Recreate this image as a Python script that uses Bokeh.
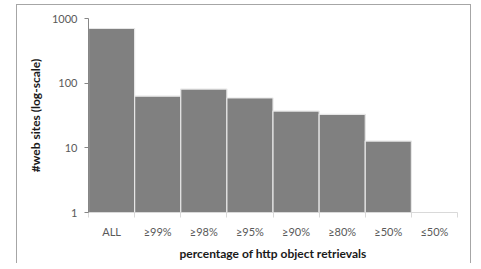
from bokeh.plotting import figure
from bokeh.models import FixedTicker, ColumnDataSource
from bokeh.embed import file_html
from bokeh.resources import INLINE

categories = ["ALL", "≥99%", "≥98%", "≥95%", "≥90%", "≥80%", "≥50%", "≤50%"]
web_sites = [700, 63, 81, 59, 37, 33, 12.7, 0]
y_ticks = [1, 10, 100, 1000]

xs = [i + 0.5 for i, v in enumerate(web_sites) if v > 0]
tops = [v for v in web_sites if v > 0]
src = ColumnDataSource(dict(x=xs, top=tops))

FONT = "Lato"
BORDER = "#a6a6a6"

p = figure(width=473, height=254, output_backend="svg", toolbar_location=None,
           x_range=(0, len(categories)), y_range=(1, 1000), y_axis_type="log",
           min_border_left=88, min_border_top=18, min_border_right=16, min_border_bottom=42,
           frame_width=369, frame_height=194)
p.outline_line_color = None
p.grid.visible = False
p.border_fill_color = None
p.background_fill_color = "white"
p.styles = {"background": (
    f"linear-gradient({BORDER},{BORDER}) 16px 4px / 1px 100% no-repeat, "
    f"linear-gradient({BORDER},{BORDER}) 470px 4px / 1px 100% no-repeat, "
    f"linear-gradient({BORDER},{BORDER}) 16px 4px / 455px 1px no-repeat, "
    "#ffffff")}

p.vbar(x="x", top="top", bottom=1, width=1.0, source=src,
       fill_color="#808080", line_color="#e6e6e6", line_width=1.2)

# x axis
xa = p.xaxis[0]
xa.ticker = FixedTicker(ticks=[i + 0.5 for i in range(len(categories))],
                        minor_ticks=list(range(len(categories) + 1)))
xa.major_label_overrides = {i + 0.5: c for i, c in enumerate(categories)}
xa.major_tick_line_color = None
xa.minor_tick_in = 0
xa.minor_tick_out = 5
xa.minor_tick_line_color = "#d9d9d9"
xa.axis_line_color = "#d9d9d9"
xa.major_label_text_font = FONT
xa.major_label_text_font_size = "11px"
xa.major_label_text_color = "#595959"
xa.major_label_standoff = 6
xa.axis_label = "percentage of http object retrievals"
xa.axis_label_text_font = FONT
xa.axis_label_text_font_style = "bold"
xa.axis_label_text_font_size = "12px"
xa.axis_label_text_color = "#1a1a1a"
xa.axis_label_standoff = 5

# y axis
ya = p.yaxis[0]
ya.ticker = FixedTicker(ticks=y_ticks, minor_ticks=[])
ya.major_label_overrides = {t: str(t) for t in y_ticks}
ya.major_tick_in = 0
ya.major_tick_out = 4
ya.major_tick_line_color = "#868686"
ya.axis_line_color = "#868686"
ya.minor_tick_line_color = None
ya.major_label_text_font = FONT
ya.major_label_text_font_size = "11px"
ya.major_label_text_color = "#595959"
ya.major_label_standoff = 7
ya.axis_label = "#web sites (log-scale)"
ya.axis_label_text_font = FONT
ya.axis_label_text_font_style = "bold"
ya.axis_label_text_font_size = "12px"
ya.axis_label_text_color = "#1a1a1a"
ya.axis_label_standoff = 6

open("out.html", "w").write(file_html(p, INLINE))
